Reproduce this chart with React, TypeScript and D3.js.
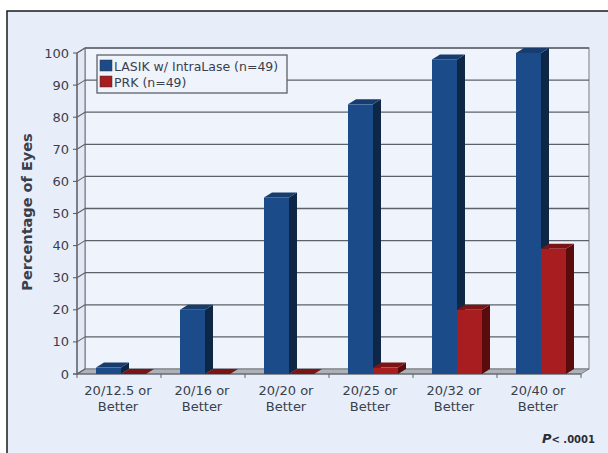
import React from "react";
import * as d3 from "d3";

const categories = [
  "20/12.5 or|Better",
  "20/16 or|Better",
  "20/20 or|Better",
  "20/25 or|Better",
  "20/32 or|Better",
  "20/40 or|Better",
];
const seriesNames = ["LASIK w/ IntraLase (n=49)", "PRK (n=49)"];
const lasikValues = [2, 20, 55, 84, 98, 100];
const prkValues = [0, 0, 0, 2, 20, 39];
const yTicks = [0, 10, 20, 30, 40, 50, 60, 70, 80, 90, 100];

const W = 608;
const H = 453;
const FONT = "'DejaVu Sans', Verdana, sans-serif";
const TEXT = "#3a3f4c";

// 3D depth offset of the back wall
const DX = 8;
const DY = -5;

const palette = [
  { front: "#1c4b89", side: "#0e2747", top: "#163d6d" },
  { front: "#a81d1f", side: "#5a0c0d", top: "#7c1416" },
];

export default function App() {
  const x = d3.scaleBand<string>().domain(categories).range([77, 581]);
  const y = d3.scaleLinear().domain([0, 100]).range([374, 53]);
  const x0 = 77;
  const x1 = 581;
  const y0 = y(0);
  const yTop = y(100);

  const series = [lasikValues, prkValues];
  const bw = 25;
  const innerOffset = 19;

  const pts = (p: [number, number][]) => p.map((q) => q.join(",")).join(" ");

  return (
    <svg
      width={W}
      height={H}
      style={{ position: "absolute", left: 0, top: 0, background: "#ffffff" }}
    >
      {/* outer frame */}
      <rect x={7} y={11} width={W + 10} height={H + 10} fill="#e8eef9" stroke="#1a1a1a" strokeWidth={1.5} />

      {/* back wall */}
      <rect
        x={x0 + DX}
        y={yTop + DY}
        width={x1 - x0}
        height={y0 - yTop}
        fill="#eff3fb"
        stroke="#8a8f99"
        strokeWidth={1.2}
      />
      {/* left side wall */}
      <polygon
        points={pts([
          [x0, yTop],
          [x0 + DX, yTop + DY],
          [x0 + DX, y0 + DY],
          [x0, y0],
        ])}
        fill="#e3e9f4"
        stroke="#6b6f78"
        strokeWidth={1}
      />
      {/* floor */}
      <polygon
        points={pts([
          [x0, y0],
          [x1, y0],
          [x1 + DX, y0 + DY],
          [x0 + DX, y0 + DY],
        ])}
        fill="#aeb1b6"
        stroke="#6b6f78"
        strokeWidth={0.8}
      />

      {/* gridlines and y ticks */}
      {yTicks.map((t) => (
        <g key={t}>
          {t > 0 && (
            <line
              x1={x0 + DX}
              x2={x1 + DX}
              y1={y(t) + DY}
              y2={y(t) + DY}
              stroke="#5c6068"
              strokeWidth={1.3}
            />
          )}
          <line x1={x0} x2={x0 + DX} y1={y(t)} y2={y(t) + DY} stroke="#5c6068" strokeWidth={1.1} />
          <line x1={x0 - 4} x2={x0} y1={y(t)} y2={y(t)} stroke="#5c6068" strokeWidth={1.1} />
          <text
            x={69}
            y={y(t) + 4.5}
            textAnchor="end"
            fontFamily={FONT}
            fontSize={13}
            fill={TEXT}
          >
            {t}
          </text>
        </g>
      ))}

      {/* front axis lines */}
      <line x1={x0} x2={x0} y1={yTop} y2={y0} stroke="#5c6068" strokeWidth={1.2} />
      <line x1={x0 - 4} x2={x1} y1={y0} y2={y0} stroke="#5c6068" strokeWidth={1.2} />

      {/* category ticks */}
      {categories.map((c) => (
        <line
          key={c}
          x1={x(c) as number}
          x2={x(c) as number}
          y1={y0}
          y2={y0 + 4}
          stroke="#5c6068"
          strokeWidth={1}
        />
      ))}
      <line x1={x1} x2={x1} y1={y0} y2={y0 + 4} stroke="#5c6068" strokeWidth={1} />

      {/* 3D bars */}
      {categories.map((c, ci) => {
        const b = x(c) as number;
        return (
          <g key={c}>
            {series.map((vals, s) => {
              const v = vals[ci];
              const left = b + innerOffset + s * bw;
              const right = left + bw;
              const top = y(v);
              const col = palette[s];
              return (
                <g key={s}>
                  <polygon
                    points={pts([
                      [right, top],
                      [right + DX, top + DY],
                      [right + DX, y0 + DY],
                      [right, y0],
                    ])}
                    fill={col.side}
                  />
                  <polygon
                    points={pts([
                      [left, top],
                      [left + DX, top + DY],
                      [right + DX, top + DY],
                      [right, top],
                    ])}
                    fill={col.top}
                  />
                  {v > 0 && (
                    <rect x={left} y={top} width={bw} height={y0 - top} fill={col.front} />
                  )}
                </g>
              );
            })}
          </g>
        );
      })}

      {/* category labels */}
      {categories.map((c) => {
        const cx = (x(c) as number) + x.bandwidth() / 2 - 1;
        const [l1, l2] = c.split("|");
        return (
          <text key={c} textAnchor="middle" fontFamily={FONT} fontSize={13} fill={TEXT}>
            <tspan x={cx} y={395}>
              {l1}
            </tspan>
            <tspan x={cx} y={411}>
              {l2}
            </tspan>
          </text>
        );
      })}

      {/* y axis title */}
      <text
        transform={`translate(32, 212) rotate(-90)`}
        textAnchor="middle"
        fontFamily={FONT}
        fontWeight="bold"
        fontSize={14.5}
        fill={TEXT}
      >
        Percentage of Eyes
      </text>

      {/* legend */}
      <rect x={97} y={55} width={190} height={38} fill="#eff3fb" stroke="#5c6068" strokeWidth={1.3} />
      {seriesNames.map((n, i) => (
        <g key={n}>
          <rect x={100} y={60 + i * 16} width={12} height={11} fill={palette[i].front} stroke="#333" strokeWidth={0.5} />
          <text x={114} y={70.5 + i * 16} fontFamily={FONT} fontSize={12.5} fill={TEXT}>
            {n}
          </text>
        </g>
      ))}

      {/* significance note */}
      <text x={595} y={443} textAnchor="end" fontFamily={FONT} fontWeight="bold" fontSize={10} fill="#2a2d35">
        <tspan fontStyle="italic" fontSize={13}>P</tspan>
        <tspan>{"< .0001"}</tspan>
      </text>
    </svg>
  );
}
